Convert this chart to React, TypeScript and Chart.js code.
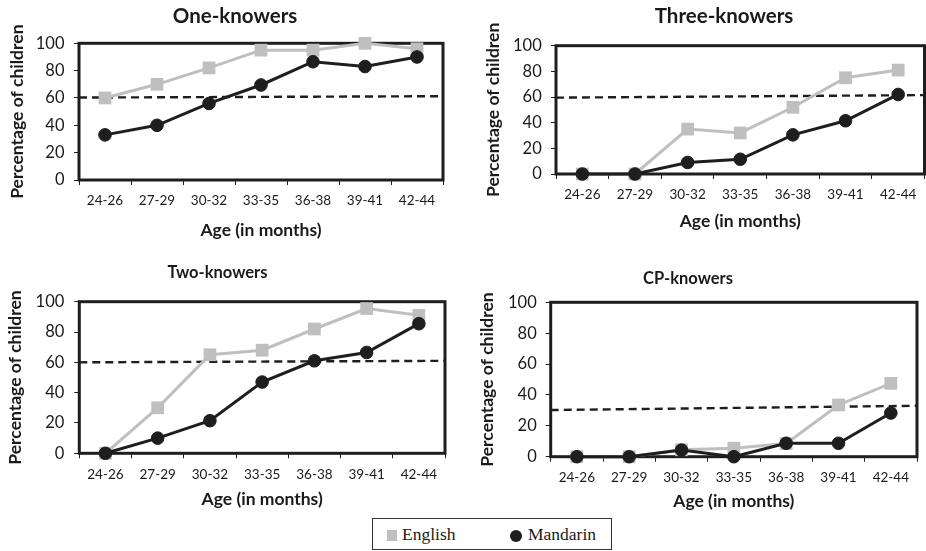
import React, { useEffect, useRef } from 'react';
import { Chart, registerables } from 'chart.js';

Chart.register(...registerables);

// ---------- data ----------
const ageGroups = ['24-26', '27-29', '30-32', '33-35', '36-38', '39-41', '42-44'];
const seriesNames = ['English', 'Mandarin'];

const oneEnglish = [60, 70, 82, 95, 95, 100, 96];
const oneMandarin = [33, 40, 56, 69.5, 86.5, 83, 90];
const oneCriterion = [60.3, 61.3];

const threeEnglish = [0, 0, 35, 32, 52, 75, 81];
const threeMandarin = [0, 0, 9, 11.5, 30.5, 41.5, 62];
const threeCriterion = [59.5, 61.5];

const twoEnglish = [0, 30, 65, 68, 82, 95.5, 91];
const twoMandarin = [0, 10, 21.5, 47, 61, 66.5, 85.5];
const twoCriterion = [60, 61];

const cpEnglish = [0, 0, 4.5, 5.5, 8.5, 33.5, 47.5];
const cpMandarin = [0, 0, 4.3, 0, 8.7, 8.7, 28.3];
const cpCriterion = [30.2, 33];

// ---------- style ----------
const GRAY = '#bfbfbf';
const BLACK = '#1e1e1e';
const TEXT = '#1a1a1a';
Chart.defaults.font.family = 'Lato, sans-serif';
Chart.defaults.color = TEXT;

type Panel = {
  title: string;
  english: number[];
  mandarin: number[];
  criterion: number[];
  left: number;
  top: number;
  width: number;
  height: number;
  titleSize: number;
  titlePadTop: number;
  titlePadBottom: number;
  yWidth: number;
  rightWidth: number;
  xHeight: number;
  yTitlePad: number;
  xTitlePad: number;
  yTickPad: number;
};

const panels: Panel[] = [
  {
    title: 'One-knowers', english: oneEnglish, mandarin: oneMandarin, criterion: oneCriterion,
    left: 0, top: 0, width: 470, height: 250, titleSize: 20.5, titlePadTop: 3.7, titlePadBottom: 15,
    yWidth: 79, rightWidth: 27, xHeight: 70, yTitlePad: 6.5, xTitlePad: 9.5, yTickPad: 9.5,
  },
  {
    title: 'Three-knowers', english: threeEnglish, mandarin: threeMandarin, criterion: threeCriterion,
    left: 470, top: 0, width: 508, height: 245, titleSize: 20.5, titlePadTop: 3.7, titlePadBottom: 17.4,
    yWidth: 86, rightWidth: 53.5, xHeight: 71, yTitlePad: 12.5, xTitlePad: 13.5, yTickPad: 9.3,
  },
  {
    title: 'Two-knowers', english: twoEnglish, mandarin: twoMandarin, criterion: twoCriterion,
    left: -20, top: 250, width: 475, height: 272, titleSize: 16.5, titlePadTop: 13.1, titlePadBottom: 18.8,
    yWidth: 99.3, rightWidth: 10, xHeight: 68.7, yTitlePad: 24.5, xTitlePad: 12.5, yTickPad: 10,
  },
  {
    title: 'CP-knowers', english: cpEnglish, mandarin: cpMandarin, criterion: cpCriterion,
    left: 450, top: 250, width: 476, height: 272, titleSize: 16.5, titlePadTop: 19.1, titlePadBottom: 13.4,
    yWidth: 100.7, rightWidth: 1.5, xHeight: 65.3, yTitlePad: 27, xTitlePad: 9.8, yTickPad: 9,
  },
];

const framePlugin = {
  id: 'plotFrame',
  beforeDatasetsDraw(chart: any) {
    const { ctx, chartArea: a } = chart;
    ctx.save();
    ctx.strokeStyle = BLACK;
    ctx.lineWidth = 3;
    ctx.strokeRect(a.left, a.top, a.right - a.left, a.bottom - a.top);
    ctx.restore();
  },
};

function PanelChart({ p }: { p: Panel }) {
  const ref = useRef<HTMLCanvasElement>(null);
  useEffect(() => {
    const chart = new Chart(ref.current as HTMLCanvasElement, {
      type: 'line',
      data: {
        labels: ageGroups,
        datasets: [
          {
            label: seriesNames[1],
            data: p.mandarin,
            borderColor: BLACK,
            backgroundColor: BLACK,
            borderWidth: 3,
            pointStyle: 'circle',
            pointRadius: 6.3,
            pointBorderWidth: 1,
            pointBackgroundColor: BLACK,
            pointBorderColor: BLACK,
            order: 0,
            clip: false,
          } as any,
          {
            label: seriesNames[0],
            data: p.english,
            borderColor: GRAY,
            backgroundColor: GRAY,
            borderWidth: 3,
            pointStyle: 'rect',
            pointRadius: 9,
            pointBorderWidth: 0,
            pointBackgroundColor: GRAY,
            order: 1,
            clip: false,
          } as any,
          {
            label: 'criterion',
            data: [
              { x: 0, y: p.criterion[0] },
              { x: 1, y: p.criterion[1] },
            ],
            xAxisID: 'x2',
            borderColor: BLACK,
            borderWidth: 2.4,
            borderDash: [8, 5],
            pointRadius: 0,
            order: 2,
            clip: false,
          } as any,
        ],
      },
      options: {
        animation: false,
        responsive: false,
        devicePixelRatio: 1,
        layout: { padding: 0 },
        plugins: {
          legend: { display: false },
          tooltip: { enabled: false },
          title: {
            display: true,
            text: p.title,
            color: TEXT,
            font: { size: p.titleSize, weight: 'bold' },
            padding: { top: p.titlePadTop, bottom: p.titlePadBottom },
          },
        },
        scales: {
          x: {
            type: 'category',
            offset: true,
            grid: {
              display: true,
              drawOnChartArea: false,
              offset: true,
              tickLength: 5,
              color: BLACK,
              lineWidth: 1,
            },
            border: { display: false },
            ticks: { font: { size: 13.5 }, color: TEXT, padding: 7.9, maxRotation: 0, autoSkip: false },
            title: {
              display: true,
              text: 'Age (in months)',
              color: TEXT,
              font: { size: 17.5, weight: 'bold' },
              padding: { top: 0, bottom: p.xTitlePad },
            },
            afterFit: (s: any) => {
              s.height = p.xHeight;
            },
          },
          x2: { type: 'linear', display: false, min: 0, max: 1 },
          y: {
            type: 'linear',
            min: 0,
            max: 100,
            ticks: { stepSize: 20, font: { size: 16.5 }, color: TEXT, padding: p.yTickPad },
            grid: { display: true, drawOnChartArea: false, tickLength: 5, color: BLACK, lineWidth: 1 },
            border: { display: false },
            title: {
              display: true,
              text: 'Percentage of children',
              color: TEXT,
              font: { size: 17.5, weight: 'bold' },
              padding: { top: p.yTitlePad, bottom: 0 },
            },
            afterFit: (s: any) => {
              s.width = p.yWidth;
            },
          },
          yR: {
            type: 'linear',
            position: 'right',
            display: true,
            grid: { display: false },
            ticks: { display: false },
            border: { display: false },
            afterFit: (s: any) => {
              s.width = p.rightWidth;
            },
          },
        },
      } as any,
      plugins: [framePlugin],
    });
    return () => chart.destroy();
  }, [p]);
  return (
    <canvas
      ref={ref}
      width={p.width}
      height={p.height}
      style={{ position: 'absolute', left: p.left, top: p.top, width: p.width, height: p.height }}
    />
  );
}

export default function App() {
  return (
    <div
      style={{
        position: 'absolute',
        left: 0,
        top: 0,
        width: 926,
        height: 551,
        overflow: 'hidden',
        background: '#ffffff',
      }}
    >
      {panels.map((p) => (
        <PanelChart key={p.title} p={p} />
      ))}
      <div
        style={{
          position: 'absolute',
          left: 372,
          top: 518,
          width: 240,
          height: 32,
          boxSizing: 'border-box',
          border: '1px solid #333',
          background: '#fff',
          zIndex: 2,
          fontFamily: '"Liberation Serif", "Times New Roman", serif',
          fontSize: 17.5,
          color: TEXT,
        }}
      >
        <span style={{ position: 'absolute', left: 14, top: 11, width: 10, height: 11, background: GRAY }} />
        <span style={{ position: 'absolute', left: 29, top: 0, lineHeight: '30px' }}>{seriesNames[0]}</span>
        <span
          style={{ position: 'absolute', left: 137, top: 11, width: 12, height: 12, borderRadius: 6, background: BLACK }}
        />
        <span style={{ position: 'absolute', left: 155, top: 0, lineHeight: '30px' }}>{seriesNames[1]}</span>
      </div>
    </div>
  );
}
